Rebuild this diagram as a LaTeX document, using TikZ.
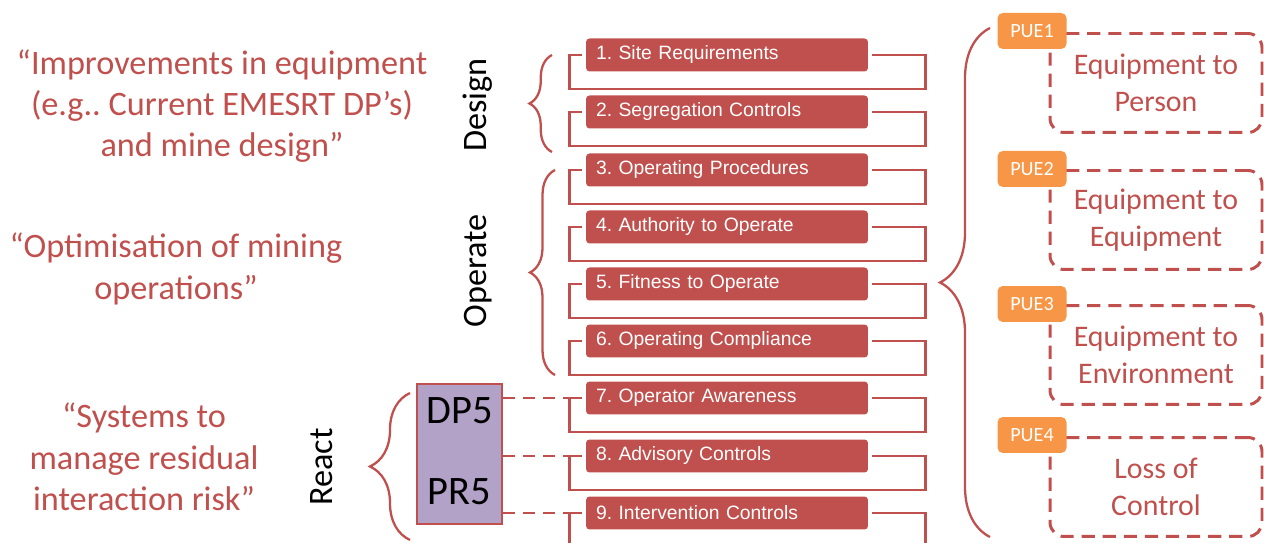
\documentclass[tikz,border=0pt]{standalone}
\usepackage{fontspec}
\setmainfont{Carlito}
\newfontfamily\arialfont{Liberation Sans}
\usetikzlibrary{positioning,decorations.pathreplacing}

\definecolor{brick}{HTML}{C0504D}
\definecolor{tangerine}{HTML}{F79646}
\definecolor{lilac}{HTML}{B3A2C7}

\frenchspacing
\begin{document}
\begin{tikzpicture}[x=0.02cm,y=-0.02cm,
  ctrl/.style={fill=brick, rounded corners=2pt, text=white,
    font=\arialfont\fontsize{11}{13}\selectfont,
    minimum width=5.64cm, minimum height=0.66cm, text width=5.24cm,
    inner xsep=0.2cm, inner ysep=0pt, align=left},
  loopline/.style={draw=brick, line width=1.7pt},
  brc/.style={draw=brick, line width=1.3pt, decorate},
  quote/.style={text=brick, font=\fontsize{19.5}{23.5}\selectfont, align=center},
  phase/.style={rotate=90, font=\fontsize{19.5}{23.5}\selectfont},
  tag/.style={font=\fontsize{23}{27}\selectfont},
  dpdash/.style={draw=brick, line width=1.6pt, dash pattern=on 7pt off 4.5pt},
  pue/.style={fill=tangerine, rounded corners=3pt, text=white,
    font=\fontsize{11.5}{13}\selectfont,
    minimum width=1.38cm, minimum height=0.72cm, inner sep=0pt},
  zone/.style={draw=brick, line width=1.7pt, dash pattern=on 7.5pt off 4.5pt,
    rounded corners=8pt, minimum width=4.24cm, minimum height=1.98cm,
    text=brick, font=\fontsize{17}{21}\selectfont, align=center}]
\useasboundingbox (0,0) rectangle (1264,543);

% quotes on the left
\node[quote] (q1) at (222,106) {“Improvements in equipment\\(e.g.. Current EMESRT DP’s)\\and mine design”};
\node[quote] (q2) at (176,269) {“Optimisation of mining\\operations”};
\node[quote] (q3) at (144,457) {“Systems to\\manage residual\\interaction risk”};

% phases
\node[phase] (design) at (478,105) {Design};
\node[phase] (operate) at (478,271) {Operate};
\node[phase] (react) at (322,467) {React};
\draw[brc, decoration={brace, amplitude=0.45cm}] (552,152) -- (552,55);
\draw[brc, decoration={brace, amplitude=0.5cm}] (555,375) -- (555,170);
\draw[brc, decoration={brace, amplitude=0.8cm}] (410,540) -- (410,393);

% controls with their loops
\foreach \n/\yy/\txt in {1/55/1. Site Requirements, 2/112/2. Segregation Controls,
    3/170/3. Operating Procedures, 4/227/4. Authority to Operate,
    5/284/5. Fitness to Operate, 6/341/6. Operating Compliance,
    7/398/7. Operator Awareness, 8/456/8. Advisory Controls,
    9/513/9. Intervention Controls} {
  \node[ctrl] (c\n) at (727,\yy) {\txt};
  \draw[loopline] ([xshift=0.08cm]c\n.east) -- ++(53,0) -- ++(0,34)
    -- ++(-356,0) -- ++(0,-34) -- ([xshift=-0.08cm]c\n.west);
}

% DP5 / PR5
\node[draw=brick, line width=0.8pt, fill=lilac, minimum width=1.7cm,
  minimum height=2.8cm] (dp) at (459.5,454) {};
\node[tag] (dptxt) at (459.5,411) {DP5};
\node[tag] (prtxt) at (459.5,492) {PR5};
\foreach \n in {7,8,9}
  \draw[dpdash] (dp.east |- c\n.west) -- ([xshift=-0.34cm]c\n.west);

% interaction types
\draw[brc, decoration={brace, amplitude=1cm}] (990,537) -- (990,28);
\node[zone] (z1) at (1156,83) {Equipment to\\Person};
\node[zone] (z2) at (1156,220) {Equipment to\\Equipment};
\node[zone] (z3) at (1156,355) {Equipment to\\Environment};
\node[zone] (z4) at (1156,487) {Loss of\\Control};
\node[pue] (p1) at (1032,31) {PUE1};
\node[pue] (p2) at (1032,169) {PUE2};
\node[pue] (p3) at (1032,304) {PUE3};
\node[pue] (p4) at (1032,435) {PUE4};
\end{tikzpicture}
\end{document}
